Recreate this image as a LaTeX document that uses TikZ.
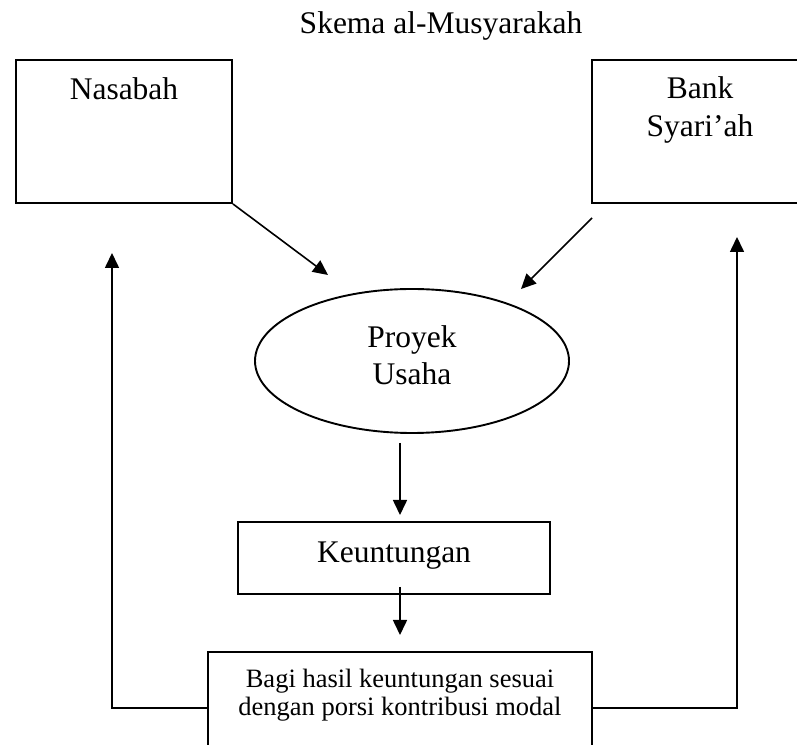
\documentclass[tikz,border=0pt]{standalone}
\usepackage{fontspec}
\setmainfont{Liberation Serif}
\usetikzlibrary{arrows.meta,shapes.geometric}
\begin{document}
\begin{tikzpicture}[x=1pt,y=1pt,
  big/.style={font=\fontsize{31.5}{37}\selectfont},
  small/.style={font=\fontsize{26.5}{28.5}\selectfont},
  box/.style={draw,line width=1.9pt,inner sep=0pt},
  flow/.style={line width=1.6pt,-{Triangle[length=15pt,width=14pt]}}]
\useasboundingbox (0,0) rectangle (797,744);
\clip (0,0) rectangle (797,744);
\fill[white] (0,0) rectangle (797,744);

% title
\node[big,anchor=base] (title) at (441,710) {Skema al-Musyarakah};

% partners
\node[box,minimum width=216pt,minimum height=143pt] (nas) at (124,612.5) {};
\node[big,anchor=base] (nastext) at (124,644) {Nasabah};

\node[box,minimum width=216pt,minimum height=143pt] (bank) at (700,612.5) {};
\node[big,anchor=base] (banktext1) at (700,645) {Bank};
\node[big,anchor=base] (banktext2) at (700,607) {Syari’ah};

% project
\node[box,ellipse,minimum width=314pt,minimum height=144pt] (proj) at (412,383) {};
\node[big,anchor=base] (projtext1) at (412,396) {Proyek};
\node[big,anchor=base] (projtext2) at (412,359) {Usaha};

% profit
\node[box,minimum width=312pt,minimum height=72pt] (profit) at (394,186) {};
\node[big,anchor=base] (profittext) at (394,181) {Keuntungan};

% profit sharing
\node[box,minimum width=384pt,minimum height=118pt] (share) at (400,33) {};
\node[small,anchor=base] (sharetext1) at (400,57) {Bagi hasil keuntungan sesuai};
\node[small,anchor=base] (sharetext2) at (400,29) {dengan porsi kontribusi modal};

% arrow end points
\coordinate (nastip) at (328,469);
\coordinate (bankstart) at (592,526);
\coordinate (banktip) at (521,455);
\coordinate (projout) at (400,301);
\coordinate (profitin) at (400,229);
\coordinate (profitout) at (400,157);
\coordinate (sharein) at (400,109);
\coordinate (leftcorner) at (112,36);
\coordinate (lefttip) at (112,491);
\coordinate (rightcorner) at (737,36);
\coordinate (righttip) at (737,507);

% connectors
\draw[flow] (nas.south east) -- (nastip);
\draw[flow] (bankstart) -- (banktip);
\draw[flow] (projout) -- (profitin);
\draw[flow] (profitout) -- (sharein);
\draw[flow] (share.west |- leftcorner) -- (leftcorner) -- (lefttip);
\draw[flow] (share.east |- rightcorner) -- (rightcorner) -- (righttip);
\end{tikzpicture}
\end{document}
